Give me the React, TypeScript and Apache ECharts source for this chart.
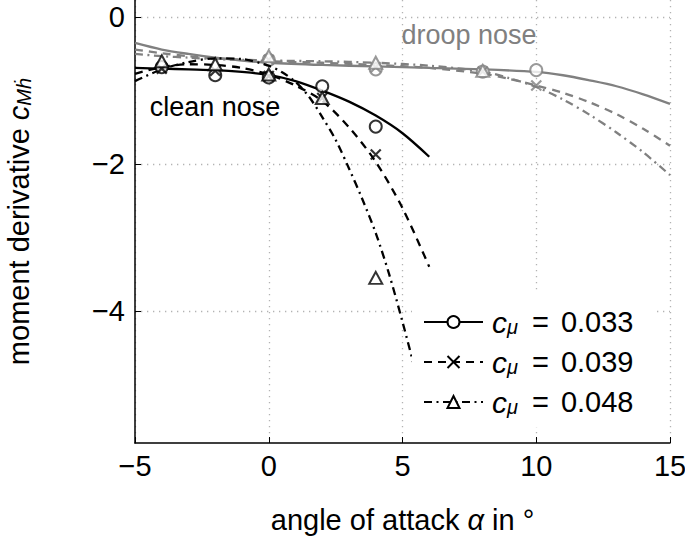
import React, { useEffect, useRef } from 'react';
import * as echarts from 'echarts';

const FONT = '"Liberation Sans", Arial, Helvetica, sans-serif';
const BLACK = '#000000';
const GRAY = '#808080';

// axis ticks
const xTickInterval = 5;
const yTickValues = [-4, -2, 0];

// clean nose – fitted curves
const cleanX033 = [-5, -4, -3, -2, -1, 0, 1, 2, 3, 4, 5, 6];
const cleanY033 = [-0.69, -0.70, -0.71, -0.72, -0.745, -0.785, -0.87, -1.0, -1.15, -1.34, -1.58, -1.9];
const cleanX039 = [-5, -4, -3, -2, -1, 0, 1, 2, 3, 4, 5, 6];
const cleanY039 = [-0.77, -0.68, -0.64, -0.65, -0.69, -0.78, -0.93, -1.14, -1.5, -1.97, -2.6, -3.4];
const cleanX048 = [-5, -4, -3, -2, -1, 0, 0.5, 1, 1.5, 2, 2.5, 3, 3.5, 4, 4.5, 5, 5.5, 6];
const cleanY048 = [-0.87, -0.71, -0.61, -0.56, -0.57, -0.66, -0.75, -0.88, -1.08, -1.36, -1.67, -2.06, -2.48, -2.94, -3.5, -4.15, -4.85, -5.6];

// clean nose – measured points
const cleanMarkX = [-4, -2, 0, 2, 4];
const cleanMarkY033 = [-0.68, -0.79, -0.82, -0.94, -1.49];
const cleanMarkY039 = [-0.70, -0.73, -0.80, -1.10, -1.87];
const cleanMarkY048 = [-0.60, -0.64, -0.78, -1.10, -3.55];

// droop nose – fitted curves
const droopX033 = [-5, -4, -3, -2, -1, 0, 2, 4, 6, 8, 10, 11, 12, 13, 14, 15];
const droopY033 = [-0.35, -0.44, -0.5, -0.55, -0.59, -0.62, -0.65, -0.67, -0.69, -0.71, -0.745, -0.79, -0.86, -0.94, -1.05, -1.18];
const droopX039 = [-5, -4, -3, -2, -1, 0, 2, 4, 6, 8, 9, 10, 11, 12, 13, 14, 15];
const droopY039 = [-0.44, -0.49, -0.53, -0.56, -0.58, -0.6, -0.62, -0.65, -0.69, -0.77, -0.84, -0.93, -1.03, -1.16, -1.32, -1.52, -1.75];
const droopX048 = [-5, -4, -3, -2, -1, 0, 2, 4, 6, 8, 9, 10, 11, 12, 13, 14, 15];
const droopY048 = [-0.5, -0.53, -0.55, -0.57, -0.58, -0.59, -0.6, -0.62, -0.66, -0.74, -0.83, -0.95, -1.12, -1.33, -1.57, -1.84, -2.15];

// droop nose – measured points
const droopMarkX033 = [0, 4, 8, 10];
const droopMarkY033 = [-0.58, -0.71, -0.74, -0.72];
const droopMarkX039 = [0, 4, 8, 10];
const droopMarkY039 = [-0.58, -0.68, -0.74, -0.93];
const droopMarkX048 = [0, 4, 8];
const droopMarkY048 = [-0.53, -0.62, -0.73];

// legend
const legendNames = ['c033', 'c039', 'c048'];
const legendValues = ['0.033', '0.039', '0.048'];

const DASHED = [8, 6];
const DASHDOT = [8, 4.5, 2, 4.5];
const CROSS = 'path://M0 0L10 10M10 0L0 10';

const zip = (xs: number[], ys: number[]) => xs.map((x, i) => [x, ys[i]]);
const minus = (v: number) => (v < 0 ? '\u2212' + Math.abs(v) : String(v));

function curve(name: string, xs: number[], ys: number[], color: string, dash: any, symbol: string, z: number) {
  return {
    type: 'line',
    name,
    data: zip(xs, ys),
    smooth: 0.3,
    showSymbol: false,
    symbol,
    symbolSize: 12,
    silent: true,
    z,
    itemStyle: { color, borderColor: color, borderWidth: 2 },
    lineStyle: { color, width: 2.3, type: dash },
  };
}

function marks(xs: number[], ys: number[], color: string, symbol: string, size: any, z: number) {
  return {
    type: 'scatter',
    data: zip(xs, ys),
    symbol,
    symbolSize: size,
    silent: true,
    z,
    itemStyle: { color, borderColor: color, borderWidth: 2.2 },
  };
}

export default function App() {
  const ref = useRef<HTMLDivElement>(null);
  useEffect(() => {
    const chart = echarts.init(ref.current!, undefined, { renderer: 'svg' });
    const option: any = {
      animation: false,
      backgroundColor: '#ffffff',
      grid: { left: 135, right: 15, top: 0, bottom: 93, containLabel: false, outerBoundsMode: 'none' },
      xAxis: {
        type: 'value',
        min: -5,
        max: 15,
        interval: xTickInterval,
        axisLine: { show: true, onZero: false, lineStyle: { color: BLACK, width: 1.5 } },
        axisTick: { show: true, inside: true, length: 6, lineStyle: { color: BLACK, width: 1 } },
        axisLabel: { fontSize: 29, color: BLACK, fontFamily: FONT, margin: 8, formatter: minus },
        splitLine: { show: true, lineStyle: { color: '#b3b3b3', width: 1.3, type: [1.3, 4.7] } },
        name: 'angle of attack {i|α} in °',
        nameLocation: 'middle',
        nameGap: 62,
        nameTextStyle: {
          fontSize: 29,
          color: BLACK,
          fontFamily: FONT,
          rich: { i: { fontSize: 29, fontStyle: 'italic', fontFamily: FONT, color: BLACK } },
        },
      },
      yAxis: {
        type: 'value',
        min: -5.8,
        max: 0.235,
        axisLine: { show: true, onZero: false, lineStyle: { color: BLACK, width: 1.5 } },
        axisTick: { show: true, inside: true, length: 6, customValues: yTickValues, lineStyle: { color: BLACK, width: 1 } },
        axisLabel: { fontSize: 29, color: BLACK, fontFamily: FONT, margin: 10, customValues: yTickValues, formatter: minus },
        splitLine: { show: true, lineStyle: { color: '#b3b3b3', width: 1.3, type: [1.3, 4.7] } },
        name: 'moment derivative {i|c}{s|Mḣ}',
        nameLocation: 'middle',
        nameGap: 101,
        nameTextStyle: {
          fontSize: 29,
          color: BLACK,
          fontFamily: FONT,
          lineHeight: 30,
          rich: {
            t: { fontSize: 29, lineHeight: 30, fontFamily: FONT, color: BLACK },
            i: { fontSize: 29, lineHeight: 30, fontStyle: 'italic', fontFamily: FONT, color: BLACK },
            s: { fontSize: 20, lineHeight: 11, fontStyle: 'italic', fontFamily: FONT, color: BLACK, verticalAlign: 'bottom' },
          },
        },
      },
      legend: {
        data: legendNames,
        orient: 'vertical',
        left: 412,
        top: 293,
        z: 20,
        padding: [14, 22, 10, 11],
        itemGap: 10,
        itemWidth: 59,
        itemHeight: 15,
        backgroundColor: '#ffffff',
        borderWidth: 0,
        selectedMode: false,
        formatter: (name: string) => {
          const v = legendValues[legendNames.indexOf(name)];
          return `{i|c}{s|μ}{e|=}{n|${v}}`;
        },
        textStyle: {
          fontSize: 29,
          color: BLACK,
          fontFamily: FONT,
          rich: {
            i: { fontSize: 30, lineHeight: 30, fontStyle: 'italic', fontFamily: FONT, color: BLACK, padding: [0, 0, 0, 4] },
            s: { fontSize: 20, lineHeight: 11, fontStyle: 'italic', fontFamily: FONT, color: BLACK, verticalAlign: 'bottom' },
            e: { fontSize: 29, lineHeight: 30, fontFamily: FONT, color: BLACK, padding: [0, 0, 0, 14] },
            n: { fontSize: 29, lineHeight: 30, fontFamily: FONT, color: BLACK, padding: [0, 0, 0, 12] },
          },
        },
      },
      graphic: [
        {
          type: 'text',
          x: 215,
          y: 107,
          z: 30,
          style: { text: 'clean nose', fontSize: 27, fontFamily: FONT, fill: BLACK, align: 'center', verticalAlign: 'middle' },
        },
        {
          type: 'text',
          x: 469,
          y: 35,
          z: 30,
          style: { text: 'droop nose', fontSize: 27, fontFamily: FONT, fill: GRAY, align: 'center', verticalAlign: 'middle' },
        },
      ],
      series: [
        curve('d033', droopX033, droopY033, GRAY, 'solid', 'emptyCircle', 2),
        curve('d039', droopX039, droopY039, GRAY, DASHED, CROSS, 2),
        curve('d048', droopX048, droopY048, GRAY, DASHDOT, 'emptyTriangle', 2),
        marks(droopMarkX033, droopMarkY033, GRAY, 'emptyCircle', 12, 2),
        marks(droopMarkX039, droopMarkY039, GRAY, CROSS, 10, 2),
        marks(droopMarkX048, droopMarkY048, GRAY, 'emptyTriangle', [13, 12], 2),
        curve('c033', cleanX033, cleanY033, BLACK, 'solid', 'emptyCircle', 3),
        curve('c039', cleanX039, cleanY039, BLACK, DASHED, CROSS, 3),
        curve('c048', cleanX048, cleanY048, BLACK, DASHDOT, 'emptyTriangle', 3),
        marks(cleanMarkX, cleanMarkY033, BLACK, 'emptyCircle', 12, 3),
        marks(cleanMarkX, cleanMarkY039, BLACK, CROSS, 10, 3),
        marks(cleanMarkX, cleanMarkY048, BLACK, 'emptyTriangle', [13, 12], 3),
      ],
    };
    chart.setOption(option);
    return () => chart.dispose();
  }, []);
  return (
    <div
      ref={ref}
      style={{ position: 'absolute', left: 0, top: 0, width: 685, height: 536, background: '#fff' }}
    />
  );
}
